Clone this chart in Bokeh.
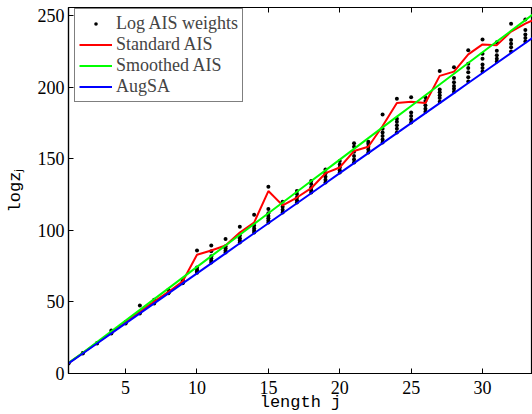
from bokeh.plotting import figure
from bokeh.models import Range1d, FixedTicker, Legend, LegendItem, LinearAxis
from bokeh.embed import file_html
from bokeh.resources import INLINE

# ---- data ----
lengths = list(range(1, 35))

augsa = [7, 14, 21, 28, 35, 42, 49, 56, 63, 70, 77, 84, 91, 98, 105, 112, 119,
         126, 133, 140, 147, 154, 161, 168, 175, 182, 189, 196, 203, 210, 217, 224, 231, 238]

smoothed_ais = [7.5, 14.5, 22.0, 29.5, 37.0, 44.5, 52.0, 59.5, 67.0, 74.5, 82.0, 89.5,
                97.0, 104.5, 112.0, 119.5, 127.0, 134.5, 142.0, 149.5, 157.0, 164.5,
                172.0, 179.5, 187.0, 194.5, 202.0, 209.5, 217.0, 224.5, 232.0, 239.5,
                247.0, 254.5]

standard_ais = [7.2, 14.3, 21.4, 28.6, 35.6, 43.2, 50.2, 57.0, 64.5, 83.0, 86.0, 89.5,
                98.5, 105.5, 127.5, 117.5, 123.0, 129.5, 140.0, 144.0, 155.5, 158.5,
                173.0, 189.0, 190.0, 189.0, 208.0, 211.0, 223.0, 230.0, 229.5, 239.0,
                244.5, 249.0]

log_ais_weights = [
    [7.0, 7.3],
    [14.0, 14.4],
    [21.0, 21.4],
    [28.0, 28.5, 30.0],
    [35.0, 35.5, 36.0],
    [42.0, 42.6, 47.5],
    [49.0, 49.6, 51.5],
    [56.0, 56.5, 58.5],
    [63.0, 63.5, 64.5, 65.5],
    [70.5, 71.5, 72.5, 74.0, 86.0],
    [77.5, 79.0, 80.5, 82.0, 85.5, 89.5],
    [84.5, 86.0, 87.5, 89.0, 94.0],
    [91.5, 93.0, 94.5, 96.5, 102.5],
    [98.5, 100.0, 101.5, 103.5, 111.0],
    [105.5, 107.0, 108.5, 110.0, 112.0, 115.0, 130.5],
    [112.5, 114.5, 116.5, 120.0],
    [119.5, 121.0, 123.0, 125.5, 127.5],
    [126.5, 128.0, 130.0, 132.5, 134.5],
    [133.5, 135.5, 137.5, 140.0, 142.5],
    [140.5, 142.0, 144.0, 146.0, 148.5],
    [147.5, 149.5, 152.0, 155.0, 158.5, 161.0],
    [154.5, 156.5, 158.5, 160.5, 162.0],
    [161.5, 163.5, 166.0, 168.5, 171.0, 181.0],
    [168.5, 171.0, 173.5, 176.0, 178.0, 192.0],
    [175.5, 177.5, 180.0, 182.5, 193.0],
    [183.0, 185.0, 187.5, 190.5, 193.0],
    [190.0, 192.5, 194.5, 196.5, 198.5, 211.5],
    [197.0, 199.0, 201.0, 203.5, 206.5, 214.0],
    [204.0, 207.0, 210.5, 213.5, 216.5, 226.0],
    [211.0, 213.5, 216.0, 220.0, 223.5, 233.5],
    [218.0, 220.0, 222.5, 225.5, 231.5],
    [225.0, 228.0, 230.5, 233.0, 244.5],
    [232.0, 234.5, 237.0, 240.0, 247.5],
]

x_ticks = [5, 10, 15, 20, 25, 30]
y_ticks = [0, 50, 100, 150, 200, 250]

SERIF = "'Liberation Serif'"
MONO = "'Liberation Mono'"

# ---- figure ----
p = figure(width=532, height=414, output_backend="svg", toolbar_location=None,
           x_range=Range1d(1, 33.5), y_range=Range1d(0, 255.8),
           min_border_left=68, min_border_right=0, min_border_top=7, min_border_bottom=41)
p.background_fill_color = "white"
p.border_fill_color = "white"
p.xgrid.visible = False
p.ygrid.visible = False
p.outline_line_color = "black"
p.outline_line_width = 1.2
p.outline_line_alpha = 1.0

for ax in (p.xaxis[0], p.yaxis[0]):
    ax.axis_line_color = "black"
    ax.axis_line_width = 1.2
    ax.major_tick_in = 5
    ax.major_tick_out = 0
    ax.major_tick_line_color = "black"
    ax.minor_tick_line_color = None
    ax.major_label_text_font = SERIF
    ax.major_label_text_font_size = "18px"
    ax.major_label_text_color = "black"
    ax.axis_label_text_font = MONO
    ax.axis_label_text_font_size = "17px"
    ax.axis_label_text_font_style = "normal"
    ax.axis_label_text_color = "black"
p.xaxis[0].ticker = FixedTicker(ticks=x_ticks)
p.yaxis[0].ticker = FixedTicker(ticks=y_ticks)
p.xaxis[0].major_label_standoff = 7
p.yaxis[0].major_label_standoff = 4
p.xaxis[0].axis_label = "length j"
p.xaxis[0].axis_label_standoff = -4
p.yaxis[0].axis_label = "logz\u2c7c"
p.yaxis[0].axis_label_standoff = 10

# top axis: inward ticks only (box style)
top_axis = LinearAxis(ticker=FixedTicker(ticks=x_ticks),
                      major_label_overrides={t: "" for t in x_ticks},
                      major_label_text_font_size="1px", major_label_standoff=0,
                      major_tick_in=5, major_tick_out=0, minor_tick_line_color=None,
                      axis_line_color="black", axis_line_width=1.2,
                      major_tick_line_color="black")
p.add_layout(top_axis, "above")

# ---- glyphs ----
dx, dy = [], []
for j, ws in zip(lengths, log_ais_weights):
    for w in ws:
        dx.append(j)
        dy.append(w)
dots = p.scatter(dx, dy, size=4, fill_color="black", line_color=None)
r_std = p.line(lengths, standard_ais, line_color="#ff0000", line_width=2)
r_smo = p.line(lengths, smoothed_ais, line_color="#00ff00", line_width=2)
r_aug = p.line(lengths, augsa, line_color="#0000ff", line_width=2)

legend = Legend(items=[
    LegendItem(label="Log AIS weights", renderers=[dots]),
    LegendItem(label="Standard AIS", renderers=[r_std]),
    LegendItem(label="Smoothed AIS", renderers=[r_smo]),
    LegendItem(label="AugSA", renderers=[r_aug]),
], location=(6, 271))
legend.border_line_color = "black"
legend.border_line_width = 1.5
legend.background_fill_alpha = 1.0
legend.label_text_font = SERIF
legend.label_text_font_size = "18px"
legend.glyph_width = 33
legend.glyph_height = 9
legend.label_height = 20
legend.spacing = 0
legend.padding = 4
legend.label_standoff = 4
legend.margin = 0
p.add_layout(legend)

open("out.html", "w").write(file_html(p, INLINE))
